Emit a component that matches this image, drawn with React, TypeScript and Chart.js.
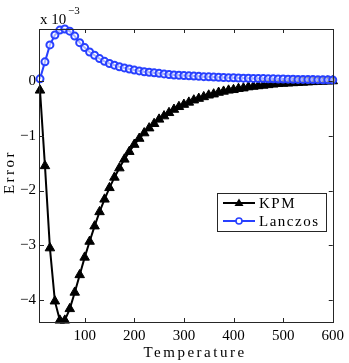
import { useEffect, useRef } from 'react';
import { Chart, registerables } from 'chart.js';
Chart.register(...registerables);

const temperatures = [10, 20, 30, 40, 50, 60, 70, 80, 90, 100, 110, 120, 130, 140, 150, 160, 170, 180, 190, 200, 210, 220, 230, 240, 250, 260, 270, 280, 290, 300, 310, 320, 330, 340, 350, 360, 370, 380, 390, 400, 410, 420, 430, 440, 450, 460, 470, 480, 490, 500, 510, 520, 530, 540, 550, 560, 570, 580, 590, 600];

const kpmError = [-0.17, -1.55, -3.05, -4.02, -4.37, -4.37, -4.16, -3.86, -3.54, -3.22, -2.93, -2.65, -2.39, -2.16, -1.95, -1.76, -1.59, -1.43, -1.29, -1.16, -1.05, -0.95, -0.86, -0.78, -0.7, -0.64, -0.58, -0.52, -0.47, -0.43, -0.39, -0.35, -0.32, -0.29, -0.26, -0.24, -0.21, -0.19, -0.17, -0.16, -0.14, -0.13, -0.11, -0.1, -0.09, -0.08, -0.07, -0.06, -0.05, -0.045, -0.04, -0.035, -0.03, -0.025, -0.02, -0.015, -0.01, -0.007, -0.004, 0];

const lanczosError = [0.04, 0.35, 0.66, 0.84, 0.93, 0.95, 0.91, 0.82, 0.7, 0.61, 0.53, 0.47, 0.41, 0.36, 0.32, 0.29, 0.26, 0.24, 0.22, 0.2, 0.185, 0.17, 0.16, 0.15, 0.14, 0.13, 0.12, 0.11, 0.105, 0.1, 0.095, 0.09, 0.085, 0.08, 0.076, 0.072, 0.068, 0.065, 0.062, 0.059, 0.056, 0.053, 0.05, 0.048, 0.046, 0.044, 0.042, 0.04, 0.038, 0.036, 0.034, 0.032, 0.03, 0.029, 0.028, 0.026, 0.025, 0.024, 0.022, 0.02];

const xTicks = [100, 200, 300, 400, 500, 600];
const yTicks = [-4, -3, -2, -1, 0];
const seriesNames = ['KPM', 'Lanczos'];
const xTitle = 'Temperature';
const yTitle = 'Error';

const SERIF = '"Liberation Serif", "DejaVu Serif", serif';
const BLUE = 'rgb(40,64,255)';

function fmt(v: number) {
  return v < 0 ? '\u2212' + Math.abs(v) : String(v);
}

const decor = {
  id: 'decor',
  afterDraw(chart: any) {
    const ctx = chart.ctx as CanvasRenderingContext2D;
    const a = chart.chartArea;
    const xs = chart.scales.x;
    const ys = chart.scales.y;
    ctx.save();
    // box
    ctx.strokeStyle = '#262626';
    ctx.lineWidth = 1;
    ctx.strokeRect(Math.round(a.left) - 0.5, Math.round(a.top) + 0.5, Math.round(a.right - a.left) + 1, Math.round(a.bottom - a.top));
    // inward ticks
    ctx.beginPath();
    xTicks.forEach((t) => {
      const px = Math.round(xs.getPixelForValue(t)) + 0.5;
      ctx.moveTo(px, a.bottom);
      ctx.lineTo(px, a.bottom - 4);
      ctx.moveTo(px, a.top);
      ctx.lineTo(px, a.top + 4);
    });
    yTicks.forEach((t) => {
      const py = Math.round(ys.getPixelForValue(t)) + 0.5;
      ctx.moveTo(a.left, py);
      ctx.lineTo(a.left + 4, py);
      ctx.moveTo(a.right, py);
      ctx.lineTo(a.right - 4, py);
    });
    ctx.stroke();

    // axis titles
    ctx.fillStyle = '#000';
    ctx.font = `15px ${SERIF}`;
    (ctx as any).letterSpacing = '2.5px';
    ctx.textAlign = 'center';
    ctx.textBaseline = 'alphabetic';
    ctx.fillText(xTitle, 195, 357);
    ctx.save();
    ctx.translate(14, 172);
    ctx.rotate(-Math.PI / 2);
    ctx.fillText(yTitle, 0, 0);
    ctx.restore();

    // exponent
    (ctx as any).letterSpacing = '0px';
    ctx.textAlign = 'left';
    ctx.font = `15px ${SERIF}`;
    ctx.fillText('x 10', 40, 24);
    ctx.font = `11px ${SERIF}`;
    ctx.fillText('\u22123', 68, 14);

    // legend
    const lx = 217, ly = 193, lw = 109, lh = 38;
    ctx.fillStyle = '#fff';
    ctx.fillRect(lx, ly, lw, lh);
    ctx.strokeStyle = '#262626';
    ctx.strokeRect(lx + 0.5, ly + 0.5, lw, lh);
    const rows = [
      { name: seriesNames[0], y: 203, color: '#000' },
      { name: seriesNames[1], y: 221, color: BLUE },
    ];
    rows.forEach((r, i) => {
      ctx.strokeStyle = r.color;
      ctx.lineWidth = 2;
      ctx.beginPath();
      ctx.moveTo(223, r.y);
      ctx.lineTo(255, r.y);
      ctx.stroke();
      if (i === 0) {
        ctx.fillStyle = '#000';
        ctx.beginPath();
        ctx.moveTo(239, r.y - 4.5);
        ctx.lineTo(243.5, r.y + 3);
        ctx.lineTo(234.5, r.y + 3);
        ctx.closePath();
        ctx.fill();
      } else {
        ctx.fillStyle = '#fff';
        ctx.beginPath();
        ctx.arc(239, r.y, 3, 0, Math.PI * 2);
        ctx.fill();
        ctx.lineWidth = 1.6;
        ctx.stroke();
      }
      ctx.fillStyle = '#000';
      ctx.font = `15px ${SERIF}`;
      (ctx as any).letterSpacing = '1.5px';
      ctx.textAlign = 'left';
      ctx.textBaseline = 'middle';
      ctx.fillText(r.name, 259, r.y + 1);
    });
    ctx.restore();
  },
};

export default function App() {
  const ref = useRef<HTMLCanvasElement | null>(null);
  useEffect(() => {
    document.body.style.margin = '0';
    const canvas = ref.current!;
    const chart = new Chart(canvas, {
      type: 'line',
      data: {
        datasets: [
          {
            label: seriesNames[0],
            data: temperatures.map((t, i) => ({ x: t, y: kpmError[i] })),
            borderColor: '#000',
            backgroundColor: '#000',
            borderWidth: 2,
            pointStyle: 'triangle',
            pointRadius: 5.5,
            pointBorderWidth: 1,
            pointBackgroundColor: '#000',
            pointBorderColor: '#000',
            order: 1,
            clip: false as any,
          },
          {
            label: seriesNames[1],
            data: temperatures.map((t, i) => ({ x: t, y: lanczosError[i] })),
            borderColor: BLUE,
            backgroundColor: '#fff',
            borderWidth: 2,
            pointStyle: 'circle',
            pointRadius: 3.5,
            pointBorderWidth: 2,
            pointBackgroundColor: 'rgba(255,255,255,0.6)',
            pointBorderColor: BLUE,
            order: 0,
            clip: false as any,
          },
        ],
      },
      options: {
        responsive: false,
        animation: false,
        events: [],
        layout: { padding: { top: 29, right: 16, left: 0, bottom: 0 } },
        plugins: { legend: { display: false }, tooltip: { enabled: false } },
        scales: {
          x: {
            type: 'linear',
            min: 10,
            max: 600,
            grid: { display: false, drawTicks: false },
            border: { display: false },
            afterFit: (s: any) => { s.height = 41; },
            afterBuildTicks: (s: any) => { s.ticks = xTicks.map((v) => ({ value: v })); },
            ticks: {
              font: { family: SERIF, size: 15 },
              color: '#000',
              padding: 5,
              maxRotation: 0,
              autoSkip: false,
              callback: (v: any) => fmt(Number(v)),
            },
          },
          y: {
            type: 'linear',
            min: -4.4,
            max: 0.95,
            grid: { display: false, drawTicks: false },
            border: { display: false },
            afterFit: (s: any) => { s.width = 40; },
            afterBuildTicks: (s: any) => { s.ticks = yTicks.map((v) => ({ value: v })); },
            ticks: {
              font: { family: SERIF, size: 15 },
              color: '#000',
              padding: 4,
              autoSkip: false,
              callback: (v: any) => fmt(Number(v)),
            },
          },
        },
      },
      plugins: [decor],
    });
    return () => chart.destroy();
  }, []);
  return (
    <div style={{ position: 'fixed', left: 0, top: 0, width: 349, height: 363 }}>
      <canvas ref={ref} width={349} height={363} style={{ width: 349, height: 363, display: 'block' }} />
    </div>
  );
}
